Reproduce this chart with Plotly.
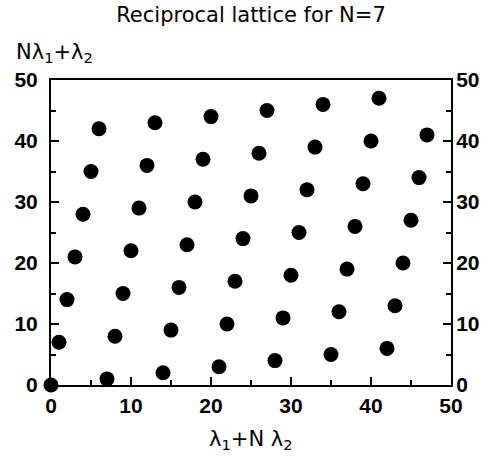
import plotly.graph_objects as go

# lattice points (x = λ1 + Nλ2, y = Nλ1 + λ2)
x_vals = [0, 1, 2, 3, 4, 5, 6,
          7, 8, 9, 10, 11, 12, 13,
          14, 15, 16, 17, 18, 19, 20,
          21, 22, 23, 24, 25, 26, 27,
          28, 29, 30, 31, 32, 33, 34,
          35, 36, 37, 38, 39, 40, 41,
          42, 43, 44, 45, 46, 47]
y_vals = [0, 7, 14, 21, 28, 35, 42,
          1, 8, 15, 22, 29, 36, 43,
          2, 9, 16, 23, 30, 37, 44,
          3, 10, 17, 24, 31, 38, 45,
          4, 11, 18, 25, 32, 39, 46,
          5, 12, 19, 26, 33, 40, 47,
          6, 13, 20, 27, 34, 41]
tick_vals = [0, 10, 20, 30, 40, 50]
tick_text = ["0", "10", "20", "30", "40", "50"]

TICK_FONT = "Liberation Sans"
TEXT_FONT = "DejaVu Sans"

fig = go.Figure()
fig.add_trace(go.Scatter(
    x=x_vals, y=y_vals, mode="markers",
    marker=dict(size=15, color="black", line=dict(width=0)),
    cliponaxis=False, showlegend=False, hoverinfo="x+y",
))
# invisible trace for the right-hand axis
fig.add_trace(go.Scatter(x=[None], y=[None], yaxis="y2", showlegend=False))

tickfont = dict(family=TICK_FONT, size=21, color="black", weight="bold")
common = dict(
    range=[0, 50], tickmode="array", tickvals=tick_vals, ticktext=tick_text,
    ticks="inside", ticklen=8, tickwidth=1.5, tickcolor="black",
    showline=True, linecolor="black", linewidth=2,
    showgrid=False, zeroline=False, tickfont=tickfont, automargin=False,
    minor=dict(ticks="inside", ticklen=5, tickwidth=1.5, tickcolor="black",
               dtick=5, tick0=0, showgrid=False),
)

fig.update_layout(
    width=489, height=457,
    margin=dict(l=51, r=38, t=80, b=72),
    paper_bgcolor="white", plot_bgcolor="white",
    title=dict(text="Reciprocal lattice for N=7", x=0.5, xref="paper",
               xanchor="center", y=1 - 15 / 457, yanchor="middle",
               font=dict(family=TEXT_FONT, size=21, color="black")),
    xaxis=dict(**common, mirror=True, ticklabelstandoff=1),
    yaxis=dict(**common, mirror=False, ticklabelstandoff=7),
    yaxis2=dict(**common, overlaying="y", side="right", ticklabelstandoff=-1),
    annotations=[
        dict(text="Nλ<sub>1</sub>+λ<sub>2</sub>", xref="paper", yref="paper",
             x=-37 / 400, y=1 + 27 / 305, xanchor="left", yanchor="middle",
             showarrow=False, font=dict(family=TEXT_FONT, size=21, color="black")),
        dict(text="λ<sub>1</sub>+N λ<sub>2</sub>", xref="paper", yref="paper",
             x=0.5, y=-55 / 305, xanchor="center", yanchor="middle",
             showarrow=False, font=dict(family=TEXT_FONT, size=21, color="black")),
    ],
)

# remove the browser's default 8px page margin so the figure sits at (0, 0)
fig.write_html("out.html",
               config={"displayModeBar": False},
               post_script="document.body.style.margin='0px';")
